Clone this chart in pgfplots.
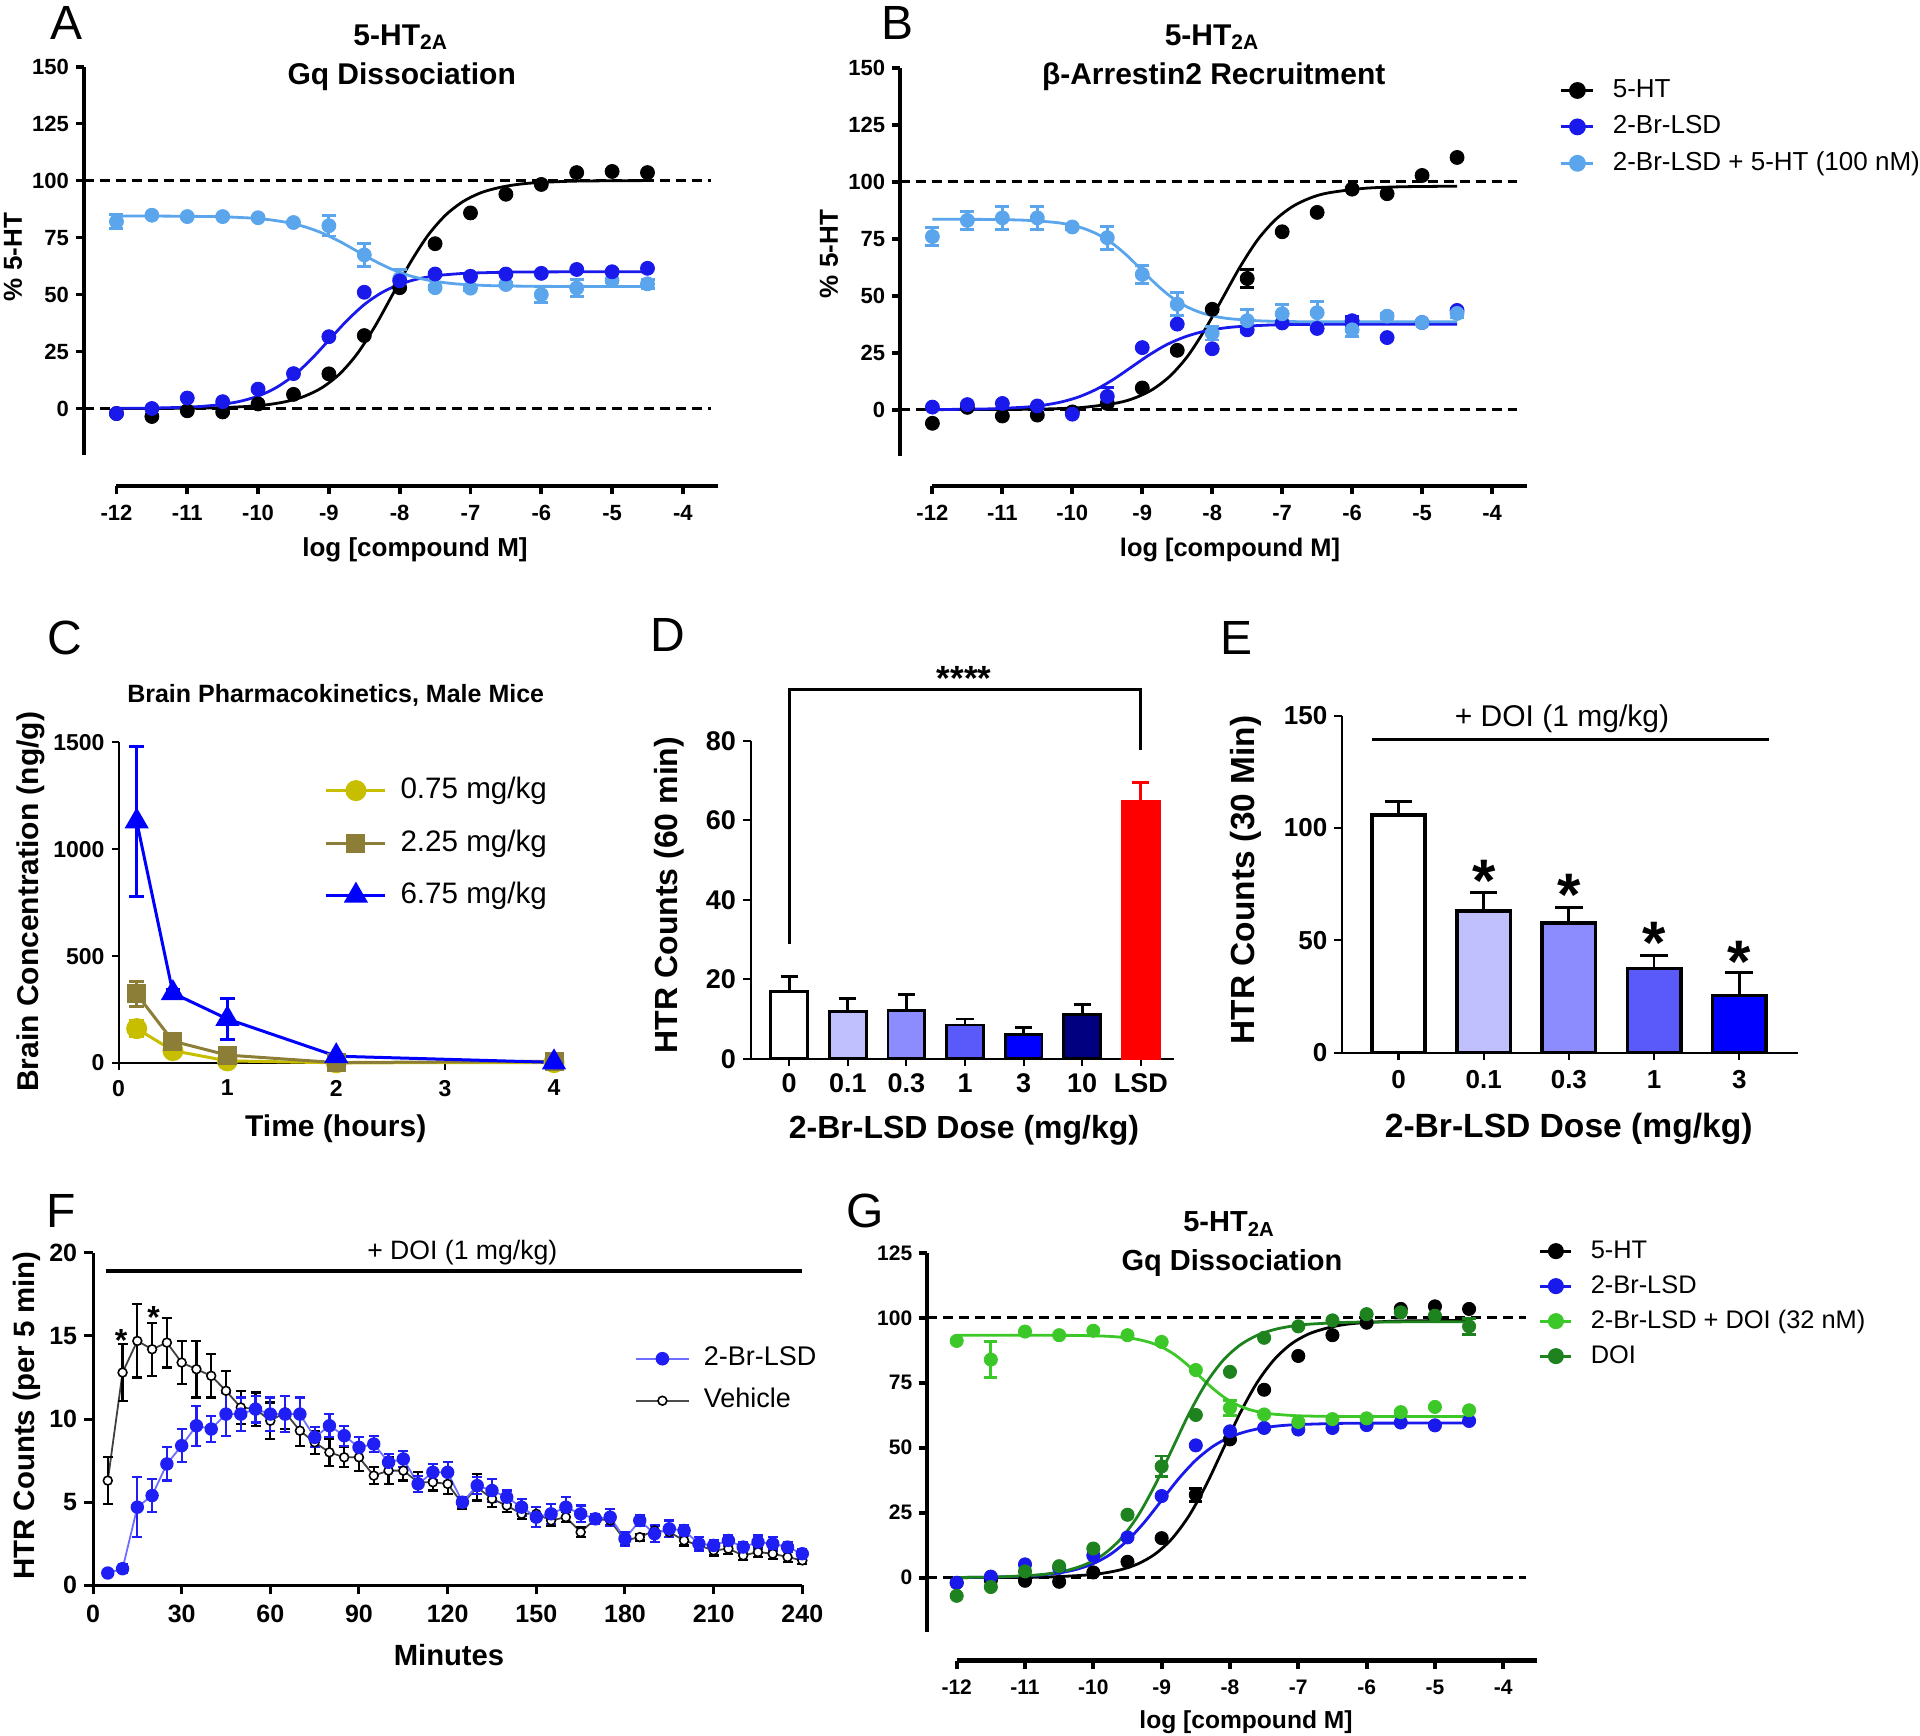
\documentclass[border=0pt]{standalone}
\usepackage{fontspec}
\setmainfont{Liberation Sans}
\usepackage{pgfplots}
\usepackage{pgfplotstable}
\pgfplotsset{compat=1.18}
\newcommand{\fs}[1]{\fontsize{#1}{#1}\selectfont}
\definecolor{myblue}{RGB}{25,25,235}
\definecolor{lblue}{RGB}{90,165,235}
\definecolor{lgreen}{RGB}{60,200,40}
\definecolor{dgreen}{RGB}{30,130,30}
\definecolor{cyel}{RGB}{200,190,0}
\definecolor{cbrown}{RGB}{140,125,55}
\definecolor{b01}{RGB}{192,192,255}
\definecolor{b03}{RGB}{140,140,255}
\definecolor{b1}{RGB}{90,90,250}
\definecolor{b3}{RGB}{0,0,255}
\definecolor{b10}{RGB}{0,0,128}
\definecolor{fblue}{RGB}{30,30,245}
\definecolor{flblue}{RGB}{110,110,255}
\pgfplotsset{
 ebars/.style 2 args={/pgfplots/error bars/y dir=both, /pgfplots/error bars/y explicit,
   /pgfplots/error bars/error bar style={line width=#1, solid},
   /pgfplots/error bars/error mark options={rotate=90, mark size=#2, line width=#1, solid}},
 ebarsc/.style n args={3}{/pgfplots/error bars/y dir=both, /pgfplots/error bars/y explicit,
   /pgfplots/error bars/error bar style={line width=#1, #3, solid},
   /pgfplots/error bars/error mark options={rotate=90, mark size=#2, line width=#1, #3, solid}},
 ebplus/.style n args={3}{/pgfplots/error bars/y dir=plus, /pgfplots/error bars/y explicit,
   /pgfplots/error bars/error bar style={line width=#1, #3, solid},
   /pgfplots/error bars/error mark options={rotate=90, mark size=#2, line width=#1, #3, solid}},
}
\pgfplotstableread{
x y e
5 6.3 1.4
10 12.8 1.7
15 14.7 2.2
20 14.2 1.6
25 14.6 1.5
30 13.4 1.3
35 13.0 1.7
40 12.6 1.3
45 11.7 1.2
50 10.7 1.0
55 10.6 1.0
60 9.9 1.1
65 10.4 1.0
70 9.3 0.9
75 8.6 0.7
80 8.0 0.8
85 7.7 0.6
90 7.7 0.8
95 6.6 0.5
100 6.9 0.8
105 6.9 0.6
110 6.2 0.6
115 6.2 0.5
120 6.1 0.6
125 4.9 0.3
130 5.9 0.8
135 5.2 0.5
140 4.8 0.4
145 4.3 0.3
150 4.3 0.4
155 3.9 0.3
160 4.1 0.3
165 3.2 0.3
170 4.0 0.3
175 3.9 0.3
180 2.7 0.3
185 2.9 0.2
190 3.3 0.3
195 3.2 0.3
200 2.7 0.3
205 2.4 0.3
210 2.1 0.3
215 2.2 0.3
220 1.8 0.3
225 2.0 0.3
230 1.9 0.3
235 1.7 0.3
240 1.5 0.2
}\tabveh
\pgfplotstableread{
x y e
5 0.74 0.2
10 1.0 0.25
15 4.7 1.8
20 5.4 1.0
25 7.3 1.0
30 8.4 1.0
35 9.6 1.2
40 9.4 0.8
45 10.3 1.3
50 10.3 1.0
55 10.6 0.8
60 10.3 1.0
65 10.3 1.1
70 10.3 1.0
75 8.9 0.6
80 9.6 0.7
85 9.0 0.6
90 8.3 0.6
95 8.5 0.5
100 7.4 0.5
105 7.6 0.5
110 6.1 0.5
115 6.8 0.5
120 6.8 0.6
125 5.0 0.3
130 6.0 0.5
135 5.7 0.7
140 5.3 0.4
145 4.7 0.5
150 4.1 0.6
155 4.3 0.6
160 4.7 0.6
165 4.3 0.5
170 4.0 0.3
175 4.1 0.5
180 2.8 0.4
185 3.9 0.3
190 3.1 0.5
195 3.4 0.5
200 3.3 0.3
205 2.5 0.4
210 2.4 0.3
215 2.7 0.3
220 2.3 0.3
225 2.6 0.4
230 2.5 0.4
235 2.3 0.3
240 1.9 0.3
}\tablsd
\begin{document}
\begin{tikzpicture}[x=0.5pt,y=-0.5pt]
\path[use as bounding box] (0,0) rectangle (1920,1735);

%%%%%%%%%%%%%%%% Panel A
\begin{axis}[
  at={(41.95pt,-243pt)}, anchor=south west, scale only axis, clip=false,
  width=317.2pt, height=209.7pt,
  xmin=-12.46, xmax=-3.5, ymin=-34, ymax=150,
  axis line style={draw=none},
  xtick={-12,-11,-10,-9,-8,-7,-6,-5,-4},
  xticklabels={-12,-11,-10,-9,-8,-7,-6,-5,-4},
  ytick={0,25,50,75,100,125,150},
  xtick pos=left, ytick pos=left,
  tick align=outside, major tick length=4pt,
  tick style={line width=1.9pt, black},
  tick label style={font=\bfseries\fs{11}},
  xticklabel style={yshift=-2pt},
  /pgf/number format/assume math mode=true,
]
\draw[line width=1.9pt] (axis cs:-12.46,-20.5) -- (axis cs:-12.46,150);
\draw[line width=2.2pt] (axis cs:-12,-34) -- (axis cs:-3.5,-34);
\draw[line width=1.4pt, dash pattern=on 5pt off 3pt] (axis cs:-12.46,0) -- (axis cs:-3.6,0);
\draw[line width=1.4pt, dash pattern=on 5pt off 3pt] (axis cs:-12.46,100) -- (axis cs:-3.6,100);
\addplot[black, line width=1.4pt, smooth, no marks] coordinates {(-12,0) (-11.1,0.1) (-10.6,0.3) (-10.1,1.0) (-9.85,1.75) (-9.6,3.07) (-9.35,5.32) (-9.1,9.09) (-8.85,15.1) (-8.6,24.0) (-8.35,36.0) (-8.1,50) (-7.85,64.0) (-7.6,76.0) (-7.35,84.9) (-7.1,90.9) (-6.85,94.7) (-6.6,96.9) (-6.35,98.25) (-6.1,99.0) (-5.6,99.7) (-5.1,99.9) (-4.5,100)};
\addplot[myblue, line width=1.4pt, smooth, no marks] coordinates {(-12,0.06) (-11.5,0.19) (-11,0.59) (-10.75,1.05) (-10.5,1.84) (-10.25,3.19) (-10,5.45) (-9.75,9.06) (-9.5,14.4) (-9.25,21.6) (-9,30) (-8.75,38.4) (-8.5,45.6) (-8.25,50.9) (-8,54.5) (-7.75,56.8) (-7.5,58.2) (-7.25,58.95) (-7,59.4) (-6.5,59.8) (-6,59.94) (-4.5,60)};
\addplot[lblue, line width=1.4pt, smooth, no marks] coordinates {(-12,84.5) (-11.6,84.47) (-10.6,84.19) (-10.1,83.55) (-9.85,82.85) (-9.6,81.68) (-9.35,79.82) (-9.1,77.05) (-8.85,73.34) (-8.6,69.0) (-8.35,64.66) (-8.1,60.95) (-7.85,58.18) (-7.6,56.32) (-7.35,55.15) (-7.1,54.45) (-6.6,53.81) (-5.6,53.53) (-4.5,53.5)};
\addplot[lblue, only marks, mark=*, mark size=3.5pt, ebars={1.4pt}{3.5pt}] coordinates {(-12,82) +- (0,3) (-11.5,84.8) +- (0,0.5) (-11,84.2) +- (0,0.5) (-10.5,84.2) +- (0,0.5) (-10,83.7) +- (0,0.5) (-9.5,81.6) +- (0,0.5) (-9,80.2) +- (0,4.5) (-8.5,67.4) +- (0,5) (-8,57) +- (0,4) (-7.5,53) +- (0,1) (-7,52.8) +- (0,1) (-6.5,54.4) +- (0,1) (-6,50) +- (0,3.5) (-5.5,52.8) +- (0,3.7) (-5,56.3) +- (0,1) (-4.5,54.7) +- (0,2)};
\addplot[black, only marks, mark=*, mark size=3.5pt] coordinates {(-12,-2.2) (-11.5,-3.5) (-11,-1) (-10.5,-1.5) (-10,2) (-9.5,6.2) (-9,15.2) (-8.5,32) (-8,53) (-7.5,72.3) (-7,85.8) (-6.5,94) (-6,98.3) (-5.5,103.5) (-5,104) (-4.5,103.5)};
\addplot[myblue, only marks, mark=*, mark size=3.5pt] coordinates {(-12,-2.2) (-11.5,0) (-11,4.6) (-10.5,3) (-10,8.5) (-9.5,15.3) (-9,31.5) (-8.5,51) (-8,56) (-7.5,59) (-7,58) (-6.5,59) (-6,59.3) (-5.5,61) (-5,60) (-4.5,61.5)};
\end{axis}

%%%%%%%%%%%%%%%% Panel B
\begin{axis}[
  at={(450.1pt,-243pt)}, anchor=south west, scale only axis, clip=false,
  width=313.4pt, height=209.2pt,
  xmin=-12.46, xmax=-3.5, ymin=-33.5, ymax=150,
  axis line style={draw=none},
  xtick={-12,-11,-10,-9,-8,-7,-6,-5,-4},
  xticklabels={-12,-11,-10,-9,-8,-7,-6,-5,-4},
  ytick={0,25,50,75,100,125,150},
  xtick pos=left, ytick pos=left,
  tick align=outside, major tick length=4pt,
  tick style={line width=1.9pt, black},
  tick label style={font=\bfseries\fs{11}},
  xticklabel style={yshift=-2pt},
  /pgf/number format/assume math mode=true,
  legend style={at={(1.0527,0.974)}, anchor=north west, draw=none, fill=none, font=\fs{13},
    inner sep=0pt, outer sep=0pt,
    row sep=6.2pt, nodes={inner sep=0pt, text height=9.5pt, text depth=2.5pt},
    /tikz/every odd column/.append style={column sep=9pt}},
  legend cell align=left,
  legend image code/.code={\draw[mark repeat=2,mark phase=2,#1] plot coordinates {(0pt,0pt) (8pt,0pt) (16pt,0pt)};},
]
\addlegendimage{black, line width=1.4pt, mark=*, mark size=3.5pt}
\addlegendentry{5-HT}
\addlegendimage{myblue, line width=1.4pt, mark=*, mark size=3.5pt}
\addlegendentry{2-Br-LSD}
\addlegendimage{lblue, line width=1.4pt, mark=*, mark size=3.5pt}
\addlegendentry{2-Br-LSD + 5-HT (100 nM)}
\draw[line width=1.9pt] (axis cs:-12.46,-20.5) -- (axis cs:-12.46,150);
\draw[line width=2.2pt] (axis cs:-12,-33.5) -- (axis cs:-3.5,-33.5);
\draw[line width=1.4pt, dash pattern=on 5pt off 3pt] (axis cs:-12.46,0) -- (axis cs:-3.65,0);
\draw[line width=1.4pt, dash pattern=on 5pt off 3pt] (axis cs:-12.46,100) -- (axis cs:-3.65,100);
\addplot[forget plot, black, line width=1.4pt, smooth, no marks] coordinates {(-12,0) (-10.85,0.1) (-10.35,0.31) (-9.85,0.97) (-9.35,3.0) (-9.1,5.2) (-8.85,8.9) (-8.6,14.8) (-8.35,23.5) (-8.1,35.3) (-7.85,49) (-7.6,62.7) (-7.35,74.5) (-7.1,83.2) (-6.85,89.1) (-6.6,92.8) (-6.35,95.0) (-5.85,97.0) (-5.35,97.7) (-4.85,97.9) (-4.5,98)};
\addplot[forget plot, myblue, line width=1.4pt, smooth, no marks] coordinates {(-12,0.05) (-11.65,0.12) (-11.15,0.37) (-10.65,1.15) (-10.4,2.0) (-10.15,3.41) (-9.9,5.66) (-9.65,9.01) (-9.4,13.5) (-9.15,18.75) (-8.9,24.0) (-8.65,28.5) (-8.4,31.8) (-8.15,34.1) (-7.9,35.5) (-7.65,36.35) (-7.15,37.13) (-6.65,37.38) (-6.15,37.46) (-4.5,37.5)};
\addplot[forget plot, lblue, line width=1.4pt, smooth, no marks] coordinates {(-12,83.45) (-11.5,83.46) (-11.083,83.36) (-10.667,83.05) (-10.25,82.12) (-10.042,81.11) (-9.833,79.41) (-9.625,76.7) (-9.417,72.69) (-9.208,67.3) (-9,61.0) (-8.792,54.7) (-8.583,49.31) (-8.375,45.3) (-8.167,42.59) (-7.958,40.89) (-7.75,39.88) (-7.333,38.95) (-6.917,38.64) (-6.5,38.55) (-4.5,38.5)};
\addplot[forget plot, black, only marks, mark=*, mark size=3.5pt, ebars={1.4pt}{3.5pt}] coordinates {(-12,-6) +- (0,0) (-11.5,1) +- (0,0) (-11,-2.8) +- (0,0) (-10.5,-2.4) +- (0,0) (-10,-1) +- (0,0) (-9.5,2.7) +- (0,0) (-9,9.5) +- (0,0) (-8.5,26) +- (0,0) (-8,44) +- (0,0) (-7.5,57.5) +- (0,4) (-7,78) +- (0,0) (-6.5,86.5) +- (0,0) (-6,96.7) +- (0,0) (-5.5,94.7) +- (0,0) (-5,102.7) +- (0,0) (-4.5,110.6) +- (0,0)};
\addplot[forget plot, myblue, only marks, mark=*, mark size=3.5pt, ebars={1.4pt}{3.5pt}] coordinates {(-12,1.1) +- (0,0) (-11.5,2.2) +- (0,0) (-11,2.7) +- (0,0) (-10.5,1.6) +- (0,0) (-10,-2) +- (0,0) (-9.5,5.8) +- (0,4) (-9,27.2) +- (0,0) (-8.5,37.5) +- (0,0) (-8,26.7) +- (0,0) (-7.5,35) +- (0,0) (-7,38) +- (0,0) (-6.5,35.6) +- (0,0) (-6,39) +- (0,2) (-5.5,31.6) +- (0,0) (-5,38.2) +- (0,0) (-4.5,43.5) +- (0,0)};
\addplot[forget plot, lblue, only marks, mark=*, mark size=3.5pt, ebars={1.4pt}{3.5pt}] coordinates {(-12,75.9) +- (0,4) (-11.5,83) +- (0,4) (-11,84.1) +- (0,5) (-10.5,84.1) +- (0,5) (-10,80.1) +- (0,1) (-9.5,75.4) +- (0,5) (-9,59.3) +- (0,4) (-8.5,46.2) +- (0,5) (-8,33.5) +- (0,3) (-7.5,39) +- (0,5) (-7,42) +- (0,4) (-6.5,42.5) +- (0,5) (-6,35) +- (0,3) (-5.5,41) +- (0,1) (-5,38.2) +- (0,1) (-4.5,42.2) +- (0,2)};
\end{axis}

%%%%%%%%%%%%%%%% Panel C
\begin{axis}[
  at={(59.25pt,-531.5pt)}, anchor=south west, scale only axis, clip=false,
  width=217.75pt, height=160.35pt,
  xmin=0, xmax=4, ymin=0, ymax=1500,
  axis x line*=bottom, axis y line*=left, axis line style={line width=1pt,-},
  xtick={0,1,2,3,4}, ytick={0,500,1000,1500}, yticklabels={0,500,1000,1500},
  tick align=outside, major tick length=3.5pt, tick style={line width=1pt, black},
  tick label style={font=\bfseries\fs{11.5}},
  xticklabel style={yshift=-1.5pt},
  /pgf/number format/assume math mode=true,
  legend style={at={(0.474,0.893)}, anchor=north west, draw=none, fill=none, font=\fs{14.8},
    inner sep=0pt, outer sep=0pt,
    row sep=12.25pt, nodes={inner sep=0pt, text height=11pt, text depth=3pt},
    /tikz/every odd column/.append style={column sep=6.8pt}},
  legend cell align=left,
  legend image code/.code={\draw[mark repeat=2,mark phase=2,#1] plot coordinates {(0pt,0pt) (14.75pt,0pt) (29.5pt,0pt)};},
]
\addlegendimage{cyel, line width=1.5pt, mark=*, mark size=4.5pt}
\addlegendentry{0.75 mg/kg}
\addlegendimage{cbrown, line width=1.5pt, mark=square*, mark size=4pt}
\addlegendentry{2.25 mg/kg}
\addlegendimage{blue, line width=1.5pt, mark=triangle*, mark size=5.5pt}
\addlegendentry{6.75 mg/kg}
\addplot[forget plot, cyel, line width=1.5pt, mark=*, mark size=4.5pt, ebars={1.5pt}{3.6pt}] coordinates {(0.167,161) +- (0,36) (0.5,58) +- (0,5) (1,10) +- (0,3) (2,1) +- (0,1) (4,2) +- (0,1)};
\addplot[forget plot, cbrown, line width=1.5pt, mark=square*, mark size=4pt, ebars={1.5pt}{3.6pt}] coordinates {(0.167,323) +- (0,58) (0.5,102) +- (0,10) (1,37) +- (0,5) (2,2) +- (0,1) (4,8) +- (0,2)};
\addplot[forget plot, blue, line width=1.5pt, mark=triangle*, mark size=5.5pt, ebars={1.5pt}{3.6pt}] coordinates {(0.167,1130) +- (0,350) (0.5,327) +- (0,15) (1,206) +- (0,97) (2,32) +- (0,5) (4,3) +- (0,1)};
\end{axis}

%%%%%%%%%%%%%%%% Panel D
\begin{axis}[
  at={(375.3pt,-529.4pt)}, anchor=south west, scale only axis, clip=false,
  width=211.7pt, height=158.95pt,
  xmin=-0.659, xmax=6.566, ymin=0, ymax=80,
  axis x line*=bottom, axis y line*=left, axis line style={line width=1pt,-},
  xtick={0,1,2,3,4,5,6}, xticklabels={0,0.1,0.3,1,3,10,LSD},
  ytick={0,20,40,60,80},
  tick align=outside, major tick length=3.8pt, tick style={line width=1pt, black},
  tick label style={font=\bfseries\fs{13.5}},
  /pgf/number format/assume math mode=true,
]
\draw[line width=1.4pt] (axis cs:0,29) -- (axis cs:0,92.9) -- (axis cs:6,92.9) -- (axis cs:6,77.6);
\addplot[ybar, bar width=18.4pt, fill=white, draw=black, line width=1.4pt, ebplus={1.4pt}{4.3pt}{black}] coordinates {(0,17) +- (0,3.7)};
\addplot[ybar, bar width=18.4pt, fill=b01, draw=black, line width=1.4pt, ebplus={1.4pt}{4.3pt}{black}] coordinates {(1,12) +- (0,3.2)};
\addplot[ybar, bar width=18.4pt, fill=b03, draw=black, line width=1.4pt, ebplus={1.4pt}{4.3pt}{black}] coordinates {(2,12.2) +- (0,3.9)};
\addplot[ybar, bar width=18.4pt, fill=b1, draw=black, line width=1.4pt, ebplus={1.4pt}{4.3pt}{black}] coordinates {(3,8.5) +- (0,1.5)};
\addplot[ybar, bar width=18.4pt, fill=b3, draw=black, line width=1.4pt, ebplus={1.4pt}{4.3pt}{black}] coordinates {(4,6.2) +- (0,1.6)};
\addplot[ybar, bar width=18.4pt, fill=b10, draw=black, line width=1.4pt, ebplus={1.4pt}{4.3pt}{black}] coordinates {(5,11.1) +- (0,2.6)};
\addplot[ybar, bar width=18.4pt, fill=red, draw=red, line width=1.4pt, ebplus={1.4pt}{4.3pt}{red}] coordinates {(6,64.7) +- (0,4.8)};
\end{axis}

%%%%%%%%%%%%%%%% Panel E
\begin{axis}[
  at={(671pt,-526.3pt)}, anchor=south west, scale only axis, clip=false,
  width=228pt, height=168.45pt,
  xmin=-0.663, xmax=4.69, ymin=0, ymax=150,
  axis x line*=bottom, axis y line*=left, axis line style={line width=1.1pt,-},
  xtick={0,1,2,3,4}, xticklabels={0,0.1,0.3,1,3},
  ytick={0,50,100,150},
  tick align=outside, major tick length=3.8pt, tick style={line width=1.1pt, black},
  tick label style={font=\bfseries\fs{13}},
  xticklabel style={yshift=-1.5pt},
  /pgf/number format/assume math mode=true,
]
\draw[line width=1.7pt] (axis cs:-0.31,139.5) -- (axis cs:4.35,139.5);
\addplot[ybar, bar width=26.65pt, fill=white, draw=black, line width=1.8pt, ebplus={1.4pt}{6.9pt}{black}] coordinates {(0,105.7) +- (0,6.1)};
\addplot[ybar, bar width=26.65pt, fill=b01, draw=black, line width=1.8pt, ebplus={1.4pt}{6.9pt}{black}] coordinates {(1,63.1) +- (0,8.1)};
\addplot[ybar, bar width=26.65pt, fill=b03, draw=black, line width=1.8pt, ebplus={1.4pt}{6.9pt}{black}] coordinates {(2,57.7) +- (0,6.9)};
\addplot[ybar, bar width=26.65pt, fill=b1, draw=black, line width=1.8pt, ebplus={1.4pt}{6.9pt}{black}] coordinates {(3,37.4) +- (0,6)};
\addplot[ybar, bar width=26.65pt, fill=b3, draw=black, line width=1.8pt, ebplus={1.4pt}{6.9pt}{black}] coordinates {(4,25.4) +- (0,10.3)};
\end{axis}

%%%%%%%%%%%%%%%% Panel F
\begin{axis}[
  at={(46.5pt,-792.65pt)}, anchor=south west, scale only axis, clip=false,
  width=354.65pt, height=166.25pt,
  xmin=0, xmax=240, ymin=0, ymax=20,
  axis x line*=bottom, axis y line*=left, axis line style={line width=1.5pt,-},
  xtick={0,30,60,90,120,150,180,210,240}, ytick={0,5,10,15,20},
  tick align=outside, major tick length=4.4pt, tick style={line width=1.5pt, black},
  tick label style={font=\bfseries\fs{12.5}},
  xticklabel style={yshift=-2pt},
  /pgf/number format/assume math mode=true,
  legend style={at={(0.764,0.7206)}, anchor=north west, draw=none, fill=none, font=\fs{13.5},
    inner sep=0pt, outer sep=0pt,
    row sep=8pt, nodes={inner sep=0pt, text height=10pt, text depth=3pt},
    /tikz/every odd column/.append style={column sep=7pt}},
  legend cell align=left,
  legend image code/.code={\draw[mark repeat=2,mark phase=2,#1] plot coordinates {(0pt,0pt) (13.25pt,0pt) (26.5pt,0pt)};},
]
\addlegendimage{flblue, line width=1pt, mark=*, mark size=2.9pt, mark options={fill=fblue, draw=fblue}}
\addlegendentry{2-Br-LSD}
\addlegendimage{black!70, line width=1pt, mark=*, mark size=2.2pt, mark options={fill=white, draw=black, line width=0.8pt}}
\addlegendentry{Vehicle}
\draw[line width=1.75pt] (axis cs:4.5,18.9) -- (axis cs:240,18.9);
\addplot[forget plot, black!75, line width=0.9pt, mark=*, mark size=2.2pt, mark options={fill=white, draw=black, line width=0.8pt}, ebarsc={1.1pt}{2.5pt}{black}] table[x=x, y=y, y error=e] {\tabveh};
\addplot[forget plot, flblue, line width=0.9pt, mark=*, mark size=2.9pt, mark options={fill=fblue, draw=fblue}, ebarsc={1.1pt}{2.5pt}{fblue}] table[x=x, y=y, y error=e] {\tablsd};
\end{axis}

%%%%%%%%%%%%%%%% Panel G
\begin{axis}[
  at={(463.65pt,-830.25pt)}, anchor=south west, scale only axis, clip=false,
  width=305.05pt, height=203.85pt,
  xmin=-12.43, xmax=-3.5, ymin=-31.9, ymax=125,
  axis line style={draw=none},
  xtick={-12,-11,-10,-9,-8,-7,-6,-5,-4},
  xticklabels={-12,-11,-10,-9,-8,-7,-6,-5,-4},
  ytick={0,25,50,75,100,125},
  xtick pos=left, ytick pos=left,
  tick align=outside, major tick length=4pt,
  tick style={line width=1.9pt, black},
  tick label style={font=\bfseries\fs{10.5}},
  xticklabel style={yshift=-2pt},
  /pgf/number format/assume math mode=true,
  legend style={at={(1.0026,1.0336)}, anchor=north west, draw=none, fill=none, font=\fs{12.7},
    inner sep=0pt, outer sep=0pt,
    row sep=5.5pt, nodes={inner sep=0pt, text height=9.5pt, text depth=2.5pt},
    /tikz/every odd column/.append style={column sep=9pt}},
  legend cell align=left,
  legend image code/.code={\draw[mark repeat=2,mark phase=2,#1] plot coordinates {(0pt,0pt) (7.75pt,0pt) (15.5pt,0pt)};},
]
\addlegendimage{black, line width=1.4pt, mark=*, mark size=3.3pt}
\addlegendentry{5-HT}
\addlegendimage{myblue, line width=1.4pt, mark=*, mark size=3.3pt}
\addlegendentry{2-Br-LSD}
\addlegendimage{lgreen, line width=1.4pt, mark=*, mark size=3.3pt}
\addlegendentry{2-Br-LSD + DOI (32 nM)}
\addlegendimage{dgreen, line width=1.4pt, mark=*, mark size=3.3pt}
\addlegendentry{DOI}
\draw[line width=2pt] (axis cs:-12.43,-21) -- (axis cs:-12.43,125);
\draw[line width=2.1pt] (axis cs:-12,-31.9) -- (axis cs:-3.5,-31.9);
\draw[line width=1.4pt, dash pattern=on 5pt off 3pt] (axis cs:-12.43,0) -- (axis cs:-3.66,0);
\draw[line width=1.4pt, dash pattern=on 5pt off 3pt] (axis cs:-12.43,100) -- (axis cs:-3.66,100);
\addplot[forget plot, black, line width=1.4pt, smooth, no marks] coordinates {(-12,0) (-11.1,0.1) (-10.6,0.3) (-10.1,1.0) (-9.85,1.73) (-9.6,3.04) (-9.35,5.27) (-9.1,9.0) (-8.85,14.95) (-8.6,23.8) (-8.35,35.6) (-8.1,49.5) (-7.85,63.4) (-7.6,75.2) (-7.35,84.0) (-7.1,90.0) (-6.85,93.75) (-6.6,95.9) (-6.35,97.3) (-6.1,98.0) (-5.6,98.7) (-5.1,98.9) (-4.5,99)};
\addplot[forget plot, myblue, line width=1.4pt, smooth, no marks] coordinates {(-12,0.06) (-11.5,0.19) (-11,0.59) (-10.75,1.04) (-10.5,1.82) (-10.25,3.16) (-10,5.4) (-9.75,8.98) (-9.5,14.3) (-9.25,21.4) (-9,29.75) (-8.75,38.1) (-8.5,45.2) (-8.25,50.5) (-8,54.1) (-7.75,56.3) (-7.5,57.7) (-7.25,58.5) (-7,58.9) (-6.5,59.3) (-6,59.45) (-4.5,59.5)};
\addplot[forget plot, lgreen, line width=1.4pt, smooth, no marks] coordinates {(-12,93.3) (-10.593,93.27) (-9.879,92.99) (-9.521,92.34) (-9.343,91.64) (-9.164,90.45) (-8.986,88.57) (-8.807,85.78) (-8.629,82.03) (-8.45,77.65) (-8.271,73.27) (-8.093,69.52) (-7.914,66.73) (-7.736,64.85) (-7.557,63.67) (-7.379,62.96) (-7.021,62.31) (-6.664,62.1) (-6.307,62.03) (-4.5,62.0)};
\addplot[forget plot, dgreen, line width=1.4pt, smooth, no marks] coordinates {(-12,0.07) (-11.85,0.1) (-11.35,0.31) (-10.85,0.98) (-10.6,1.72) (-10.35,3.02) (-10.1,5.24) (-9.85,8.95) (-9.6,14.87) (-9.35,23.67) (-9.1,35.45) (-8.85,49.25) (-8.6,63.04) (-8.35,74.83) (-8.1,83.63) (-7.85,89.55) (-7.6,93.26) (-7.35,95.48) (-7.1,96.78) (-6.85,97.52) (-6.35,98.19) (-5.85,98.4) (-4.5,98.5)};
\addplot[forget plot, black, only marks, mark=*, mark size=3.3pt, ebars={1.4pt}{3.3pt}] coordinates {(-12,-2) +- (0,0) (-11.5,-1) +- (0,0) (-11,-1.2) +- (0,0) (-10.5,-1.6) +- (0,0) (-10,2) +- (0,0) (-9.5,6.1) +- (0,0) (-9,15.2) +- (0,0) (-8.5,31.9) +- (0,2.5) (-8,53.2) +- (0,0) (-7.5,72.3) +- (0,0) (-7,85.3) +- (0,0) (-6.5,93.3) +- (0,0) (-6,98.1) +- (0,0) (-5.5,103.4) +- (0,0) (-5,104.4) +- (0,0) (-4.5,103.4) +- (0,0)};
\addplot[forget plot, myblue, only marks, mark=*, mark size=3.3pt] coordinates {(-12,-2) (-11.5,0.4) (-11,5.1) (-10.5,3.8) (-10,8.5) (-9.5,15.5) (-9,31.4) (-8.5,50.9) (-8,56.3) (-7.5,57.6) (-7,57) (-6.5,57.6) (-6,58.7) (-5.5,59.7) (-5,58.6) (-4.5,60.3)};
\addplot[forget plot, lgreen, only marks, mark=*, mark size=3.3pt, ebars={1.4pt}{3.3pt}] coordinates {(-12,91.1) +- (0,0) (-11.5,83.9) +- (0,7) (-11,94.7) +- (0,0) (-10.5,93.3) +- (0,0) (-10,95) +- (0,0) (-9.5,93.3) +- (0,0) (-9,90.7) +- (0,0) (-8.5,79.9) +- (0,0) (-8,65.3) +- (0,3) (-7.5,62.8) +- (0,0) (-7,59.9) +- (0,0) (-6.5,61.0) +- (0,0) (-6,61.3) +- (0,0) (-5.5,63.7) +- (0,0) (-5,65.7) +- (0,0) (-4.5,64.4) +- (0,0)};
\addplot[forget plot, dgreen, only marks, mark=*, mark size=3.3pt, ebars={1.4pt}{3.3pt}] coordinates {(-12,-7) +- (0,0) (-11.5,-3.6) +- (0,0) (-11,2.4) +- (0,0) (-10.5,4.4) +- (0,0) (-10,11.2) +- (0,0) (-9.5,24.2) +- (0,0) (-9,42.8) +- (0,4) (-8.5,62.6) +- (0,0) (-8,79.2) +- (0,0) (-7.5,92.3) +- (0,0) (-7,96.7) +- (0,0) (-6.5,99) +- (0,0) (-6,101.4) +- (0,0) (-5.5,102.1) +- (0,0) (-5,100.8) +- (0,0) (-4.5,96.7) +- (0,3)};
\end{axis}

%%%%%%%%%%%%%%%% Text
\foreach \l/\x/\y in {A/67/23, B/897/23, C/64.6/638, D/668/634.5, E/1236.8/638, F/61/1210.8, G/865.6/1211}
  \node[font=\fs{24}, inner sep=0pt] at (\x,\y) {\l};
\node[font=\bfseries\fs{15}, anchor=base, inner sep=0pt] at (400.7,45) {5-HT\textsubscript{2A}};
\node[font=\bfseries\fs{15}, anchor=base, inner sep=0pt] at (401.7,84.7) {Gq Dissociation};
\node[font=\bfseries\fs{15}, anchor=base, inner sep=0pt] at (1212,45) {5-HT\textsubscript{2A}};
\node[font=\bfseries\fs{15}, anchor=base, inner sep=0pt] at (1213.7,84.7) {β-Arrestin2 Recruitment};
\node[font=\bfseries\fs{12.5}, anchor=base, inner sep=0pt] at (335.7,702.3) {Brain Pharmacokinetics, Male Mice};
\node[font=\bfseries\fs{14.5}, anchor=base, inner sep=0pt] at (1229,1231.8) {5-HT\textsubscript{2A}};
\node[font=\bfseries\fs{14.5}, anchor=base, inner sep=0pt] at (1232,1270.3) {Gq Dissociation};
\node[font=\bfseries\fs{13}, rotate=90, inner sep=0pt] at (13,257) {\% 5-HT};
\node[font=\bfseries\fs{13}, rotate=90, inner sep=0pt] at (829,254) {\% 5-HT};
\node[font=\bfseries\fs{13}, anchor=base, inner sep=0pt] at (415,556.5) {log [compound M]};
\node[font=\bfseries\fs{12.7}, anchor=base, inner sep=0pt] at (1230,556.5) {log [compound M]};
\node[font=\bfseries\fs{12.3}, anchor=base, inner sep=0pt] at (1246,1728.8) {log [compound M]};
\node[font=\bfseries\fs{15}, rotate=90, inner sep=0pt] at (30.5,901.7) {Brain Concentration (ng/g)};
\node[font=\bfseries\fs{15}, inner sep=0pt] at (335.7,1129) {Time (hours)};
\node[font=\bfseries\fs{16}, rotate=90, inner sep=0pt] at (669.7,895) {HTR Counts (60 min)};
\node[font=\bfseries\fs{16}, inner sep=0pt] at (964,1130) {2-Br-LSD Dose (mg/kg)};
\node[font=\bfseries\fs{16.7}, rotate=90, inner sep=0pt] at (1246,880) {HTR Counts (30 Min)};
\node[font=\bfseries\fs{16.8}, inner sep=0pt] at (1568.7,1129) {2-Br-LSD Dose (mg/kg)};
\node[font=\bfseries\fs{14.7}, rotate=90, inner sep=0pt] at (26.6,1415.5) {HTR Counts (per 5 min)};
\node[font=\bfseries\fs{14.6}, inner sep=0pt] at (449,1655) {Minutes};
\node[font=\bfseries\fs{17.5}, anchor=base, inner sep=0pt] at (964,690) {****};
\node[font=\fs{15}, anchor=base, inner sep=0pt] at (1562,726) {+ DOI (1 mg/kg)};
\foreach \x/\y in {1483.7/901.2, 1568.9/915, 1654.1/963.4, 1739.3/982.4}
  \node[font=\bfseries\fs{30}, anchor=base, inner sep=0pt] at (\x,\y) {*};
\node[font=\fs{13.3}, anchor=base, inner sep=0pt] at (462.3,1259.8) {+ DOI (1 mg/kg)};
\node[font=\bfseries\fs{16}, anchor=base, inner sep=0pt] at (121,1351) {*};
\node[font=\bfseries\fs{16}, anchor=base, inner sep=0pt] at (153.5,1328) {*};
\end{tikzpicture}
\end{document}
